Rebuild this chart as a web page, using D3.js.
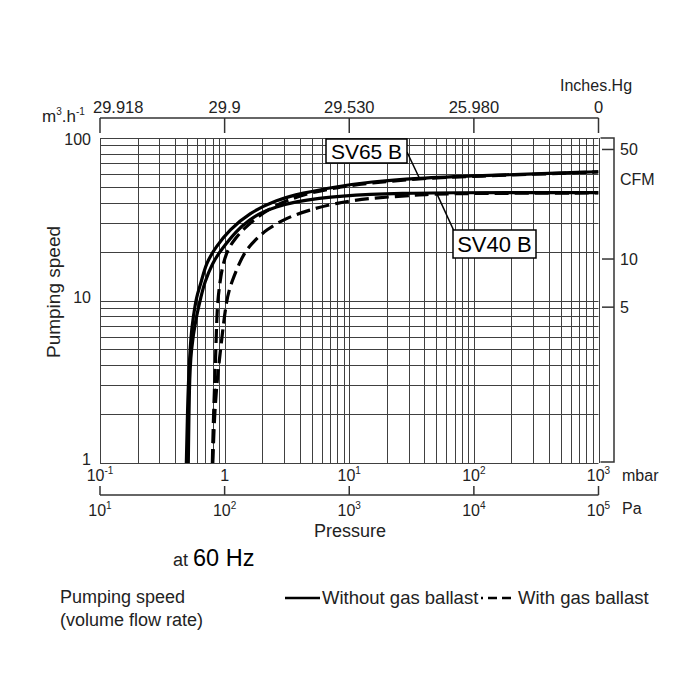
<!DOCTYPE html>
<html><head><meta charset="utf-8">
<script src="https://cdn.jsdelivr.net/npm/d3@7"></script>
<style>
body{margin:0;background:#fff}
text{font-family:"Liberation Sans",Arial,Helvetica,sans-serif;fill:#222}
</style>
</head><body>
<svg id="c" width="700" height="700"></svg>
<script>
// ---- data (pressure in mbar, pumping speed in m3/h) ----
const sv65Solid = [[0.493,1.0],[0.502,1.84],[0.511,3.11],[0.537,6.31],[0.561,7.91],[0.593,10.55],[0.647,12.8],[0.709,17.0],[0.853,21.4],[1.09,27.2],[1.58,34.6],[2.58,41.5],[4.2,45.9],[7.83,50.1],[14.5,53.8],[36.5,56.7],[92,58.4],[1000,62.0]];
const sv40Solid = [[0.511,1.0],[0.521,3.11],[0.537,4.96],[0.590,7.91],[0.647,10.55],[0.687,12.8],[0.797,17.0],[0.936,20.5],[1.26,27.2],[1.58,31.3],[1.90,34.4],[2.58,37.8],[3.74,40.6],[5.75,42.6],[8.8,44.0],[14.5,45.0],[26.7,45.7],[50,46.1],[1000,46.1]];
const sv65Dashed = [[0.797,1.0],[0.812,1.84],[0.834,3.24],[0.850,4.96],[0.866,7.91],[0.882,10.07],[0.915,12.8],[0.958,16.1],[1.05,20.5],[1.22,24.2],[1.44,27.9],[1.80,32.2],[2.28,36.6],[3.19,41.5],[4.78,45.9],[8.33,49.9],[14.5,52.8],[36.5,56.3],[92,58.0],[1000,61.8]];
const sv40Dashed = [[0.804,1.0],[0.827,1.92],[0.874,3.38],[0.941,5.48],[1.03,10.07],[1.13,12.8],[1.31,17.0],[1.49,20.5],[1.76,23.6],[2.15,27.2],[3.11,32.2],[4.78,36.1],[7.83,39.8],[14.5,42.7],[36.5,44.6],[58,45.6],[1000,45.9]];

const mbarTicks = [0.1, 1, 10, 100, 1000];
const mbarLabels = [["10","-1"],["1",""],["10","1"],["10","2"],["10","3"]];
const paLabels = [["10","1"],["10","2"],["10","3"],["10","4"],["10","5"]];
const inHgLabels = ["29.918","29.9","29.530","25.980","0"];
const speedTicks = [1, 10, 100];
const speedLabels = ["1","10","100"];
const cfmLabels = ["5","10","50"];
const cfmAtSpeed = [9.1, 18.0, 85];   // where the CFM ticks sit on the m3/h scale

// ---- layout ----
const svg = d3.select("#c");
const x = d3.scaleLog().domain([0.1, 1000]).range([100, 598.5]);
const y = d3.scaleLog().domain([1, 100]).range([463, 138]);

// grid
const vGrid = [];
for (let e = -1; e < 3; e++) for (let k = 1; k < 10; k++) vGrid.push(k * Math.pow(10, e));
vGrid.push(1000);
const hGrid = [];
for (let e = 0; e < 2; e++) for (let k = 1; k < 10; k++) hGrid.push(k * Math.pow(10, e));
hGrid.push(100);

const g = svg.append("g");
g.selectAll(".vg").data(vGrid).enter().append("line")
  .attr("x1", d => Math.round(x(d)) + 0.5).attr("x2", d => Math.round(x(d)) + 0.5)
  .attr("y1", y(100)).attr("y2", y(1))
  .attr("stroke", "#404040").attr("stroke-width", 1);
g.selectAll(".hg").data(hGrid).enter().append("line")
  .attr("y1", d => Math.round(y(d)) + 0.5).attr("y2", d => Math.round(y(d)) + 0.5)
  .attr("x1", x(0.1)).attr("x2", x(1000))
  .attr("stroke", "#404040").attr("stroke-width", 1);

// clip
svg.append("clipPath").attr("id", "clip").append("rect")
  .attr("x", x(0.1)).attr("y", y(100)).attr("width", x(1000) - x(0.1)).attr("height", y(1) - y(100) + 2);

const line = d3.line().x(d => x(d[0])).y(d => y(d[1])).curve(d3.curveBasis);
const curves = [
  {d: sv65Solid, dash: null},
  {d: sv40Solid, dash: null},
  {d: sv65Dashed, dash: "14,6"},
  {d: sv40Dashed, dash: "14,6"}
];
svg.append("g").attr("clip-path", "url(#clip)").selectAll("path").data(curves).enter().append("path")
  .attr("d", c => line(c.d)).attr("fill", "none").attr("stroke", "#000")
  .attr("stroke-width", 3.2).attr("stroke-dasharray", c => c.dash);

// top Inches.Hg axis
const topY = 118;
svg.append("line").attr("x1", x(0.1)).attr("x2", x(1000)).attr("y1", topY).attr("y2", topY)
  .attr("stroke", "#333").attr("stroke-width", 1.5);
svg.selectAll(".tt").data(mbarTicks).enter().append("line")
  .attr("x1", d => x(d)).attr("x2", d => x(d)).attr("y1", topY).attr("y2", topY + 15)
  .attr("stroke", "#333").attr("stroke-width", 1.5);
svg.selectAll(".tl").data(mbarTicks).enter().append("text")
  .attr("x", (d, i) => i === 0 ? x(d) - 7 : x(d))
  .attr("y", 113).attr("font-size", 16.5)
  .attr("text-anchor", (d, i) => i === 0 ? "start" : "middle")
  .text((d, i) => inHgLabels[i]);
svg.append("text").attr("x", 560).attr("y", 91).attr("font-size", 16).text("Inches.Hg");

// unit label m3.h-1
const u = svg.append("text").attr("x", 42).attr("y", 122).attr("font-size", 17);
u.append("tspan").text("m");
u.append("tspan").attr("dy", -7).attr("font-size", 10).text("3");
u.append("tspan").attr("dy", 7).text(".h");
u.append("tspan").attr("dy", -7).attr("font-size", 10).text("-1");

// left labels
svg.selectAll(".yl").data(speedTicks).enter().append("text")
  .attr("x", 91).attr("y", (d, i) => i === 2 ? y(d) + 7 : y(d) + 2)
  .attr("text-anchor", "end").attr("font-size", 16)
  .text((d, i) => speedLabels[i]);
svg.append("text").attr("transform", "translate(60,292) rotate(-90)")
  .attr("text-anchor", "middle").attr("font-size", 19).text("Pumping speed");

// right CFM bracket
const bx = 614;
svg.append("path")
  .attr("d", `M${x(1000)+2},${y(100)}H${bx}V${y(1)-1}H${x(1000)+2}`)
  .attr("fill", "none").attr("stroke", "#333").attr("stroke-width", 1.5);
svg.selectAll(".ct").data(cfmAtSpeed).enter().append("line")
  .attr("x1", 602).attr("x2", bx).attr("y1", d => y(d)).attr("y2", d => y(d))
  .attr("stroke", "#333").attr("stroke-width", 1.5);
svg.selectAll(".cl").data(cfmAtSpeed).enter().append("text")
  .attr("x", 620).attr("y", d => y(d) + 6).attr("font-size", 16)
  .text((d, i) => cfmLabels[i]);
svg.append("text").attr("x", 620).attr("y", 185).attr("font-size", 16).text("CFM");

// bottom mbar labels
function supLabel(sel, base, sup) {
  sel.append("tspan").text(base);
  if (sup) sel.append("tspan").attr("dy", -7).attr("font-size", 10).text(sup);
}
mbarTicks.forEach((d, i) => {
  const t = svg.append("text").attr("x", x(d)).attr("y", 481).attr("font-size", 16).attr("text-anchor", "middle");
  supLabel(t, mbarLabels[i][0], mbarLabels[i][1]);
});
svg.append("text").attr("x", 622).attr("y", 481).attr("font-size", 16).text("mbar");

// Pa axis
const paY = 495;
svg.append("line").attr("x1", x(0.1)).attr("x2", x(1000)).attr("y1", paY).attr("y2", paY)
  .attr("stroke", "#333").attr("stroke-width", 1.5);
svg.selectAll(".pt").data(mbarTicks).enter().append("line")
  .attr("x1", d => x(d)).attr("x2", d => x(d)).attr("y1", paY).attr("y2", paY - 9)
  .attr("stroke", "#333").attr("stroke-width", 1.5);
mbarTicks.forEach((d, i) => {
  const t = svg.append("text").attr("x", x(d)).attr("y", 516).attr("font-size", 16).attr("text-anchor", "middle");
  supLabel(t, paLabels[i][0], paLabels[i][1]);
});
svg.append("text").attr("x", 622).attr("y", 514).attr("font-size", 16).text("Pa");
svg.append("text").attr("x", 350).attr("y", 537).attr("font-size", 18).attr("text-anchor", "middle").text("Pressure");

// at 60 Hz
const hz = svg.append("text").attr("x", 173).attr("y", 566);
hz.append("tspan").attr("font-size", 18).text("at ");
hz.append("tspan").attr("font-size", 23.5).style("fill", "#000").text("60 Hz");

// legend
svg.append("text").attr("x", 60).attr("y", 603).attr("font-size", 18).text("Pumping speed");
svg.append("text").attr("x", 60).attr("y", 626).attr("font-size", 18).text("(volume flow rate)");
svg.append("line").attr("x1", 285).attr("x2", 320).attr("y1", 598).attr("y2", 598)
  .attr("stroke", "#000").attr("stroke-width", 2.5);
svg.append("text").attr("x", 322).attr("y", 604).attr("font-size", 18.5).text("Without gas ballast");
svg.append("line").attr("x1", 481).attr("x2", 515).attr("y1", 598).attr("y2", 598)
  .attr("stroke", "#000").attr("stroke-width", 2.5).attr("stroke-dasharray", "9,5").attr("stroke-dashoffset", 7);
svg.append("text").attr("x", 518).attr("y", 604).attr("font-size", 18.5).text("With gas ballast");

// series labels
function labelBox(txt, bxX, bxY, w, h, fs, lx1, ly1, lx2, ly2) {
  svg.append("line").attr("x1", lx1).attr("y1", ly1).attr("x2", lx2).attr("y2", ly2)
    .attr("stroke", "#000").attr("stroke-width", 1.5);
  svg.append("rect").attr("x", bxX).attr("y", bxY).attr("width", w).attr("height", h)
    .attr("fill", "#fff").attr("stroke", "#000").attr("stroke-width", 1.5);
  svg.append("text").attr("x", bxX + w / 2).attr("y", bxY + h / 2 + fs * 0.36)
    .attr("text-anchor", "middle").attr("font-size", fs).style("fill", "#000").text(txt);
}
labelBox("SV65 B", 326, 139, 81, 24, 21, 407, 152, x(36.5), y(56.7));
labelBox("SV40 B", 453, 230, 83, 28, 22, x(50), y(46.1), 454, 231);
</script>
</body></html>
